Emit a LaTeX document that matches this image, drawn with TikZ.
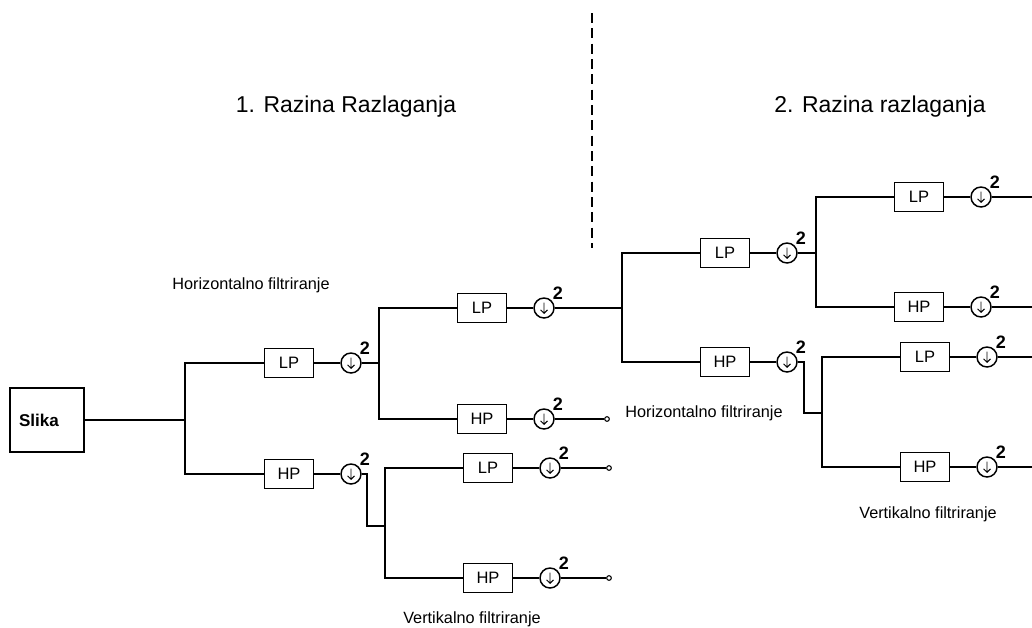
\documentclass[tikz,border=0pt]{standalone}
\usepackage{fontspec}
\setmainfont{Liberation Sans}
\usepackage{tikz}
\usetikzlibrary{arrows.meta,positioning,calc}

\begin{document}
\begin{tikzpicture}[x=0.75pt,y=-0.75pt,line width=1.1pt,
  filt/.style={draw, minimum width=36.75pt, minimum height=21.75pt, inner sep=0pt,
    font=\fontsize{12.4}{14}\selectfont},
  ds/.style={circle, draw, minimum size=15pt, inner sep=0pt, fill=white,
    label={[font=\fontsize{13.5}{15}\bfseries, inner sep=0pt, label distance=0.5pt]45:2},
    path picture={\draw[line width=.7pt]
      ([yshift=4pt]path picture bounding box.center) -- ([yshift=-4pt]path picture bounding box.center)
      ([xshift=-2.6pt,yshift=-1.4pt]path picture bounding box.center) -- ([yshift=-4pt]path picture bounding box.center)
      -- ([xshift=2.6pt,yshift=-1.4pt]path picture bounding box.center);}},
  endpt/.style={circle, draw, minimum size=3.5pt, inner sep=0pt, line width=.8pt, fill=white},
  opis/.style={font=\fontsize{12.2}{14}\selectfont},
  ttl/.style={font=\fontsize{17.2}{20}\selectfont}]
\useasboundingbox (0,0) rectangle (1032,628);

% naslovi i granica razina
\node[ttl] (t1) at (346,107) {1. Razina Razlaganja};
\node[ttl] (t2) at (880,107) {2. Razina razlaganja};
\coordinate (g1) at (592,13);
\coordinate (g2) at (592,248);
\draw[line width=1.4pt, dash pattern=on 7.5pt off 4pt] (g1) -- (g2);

\node[draw, text width=42pt, inner xsep=6.75pt, minimum height=48pt, align=left,
  font=\fontsize{12.8}{15}\bfseries] (slika) at (47,420) {Slika};

% filtri i decimatori
\foreach \n/\t/\x/\y in {lp1/LP/289/363, hp1/HP/289/474,
    lp2/LP/482/308, hp2/HP/482/419, lp3/LP/488/468, hp3/HP/488/578,
    lp4/LP/725/253, hp4/HP/725/362, lp5/LP/919/197, hp5/HP/919/307,
    lp6/LP/925/357, hp6/HP/925/467} {
  \node[filt] (\n) at (\x,\y) {\t};
  \node[ds] (d\n) at (\x+62,\y) {};
  \draw (\n) -- (d\n);
}

% 1. razina
\coordinate (j1) at (185,420);
\draw (slika.east) -- (j1);
\draw (lp1.west) -| (j1) |- (hp1.west);
\coordinate (j2) at (379,363);
\draw (dlp1) -- (j2);
\draw (lp2.west) -| (j2) |- (hp2.west);
\coordinate (b1) at (367,474);
\coordinate (j3) at (385,526);
\draw (dhp1) -- (b1) |- (j3);
\draw (lp3.west) -| (j3) |- (hp3.west);
\node[endpt] (ehp2) at (607,419) {};
\node[endpt] (elp3) at (609,468) {};
\node[endpt] (ehp3) at (609,578) {};
\draw (dhp2) -- (ehp2);
\draw (dlp3) -- (elp3);
\draw (dhp3) -- (ehp3);

% 2. razina
\coordinate (j4) at (622,308);
\draw (dlp2) -- (j4);
\draw (lp4.west) -| (j4) |- (hp4.west);
\coordinate (j5) at (816,253);
\draw (dlp4) -- (j5);
\draw (lp5.west) -| (j5) |- (hp5.west);
\coordinate (b2) at (804,362);
\coordinate (j6) at (822,413);
\draw (dhp4) -- (b2) |- (j6);
\draw (lp6.west) -| (j6) |- (hp6.west);
\foreach \n/\y in {lp5/197, hp5/307, lp6/357, hp6/467} {
  \coordinate (o\n) at (1032,\y);
  \draw (d\n) -- (o\n);
}

\node[opis] (h1) at (251,285) {Horizontalno filtriranje};
\node[opis] (h2) at (704,413) {Horizontalno filtriranje};
\node[opis] (v1) at (472,619) {Vertikalno filtriranje};
\node[opis] (v2) at (928,514) {Vertikalno filtriranje};
\end{tikzpicture}
\end{document}
